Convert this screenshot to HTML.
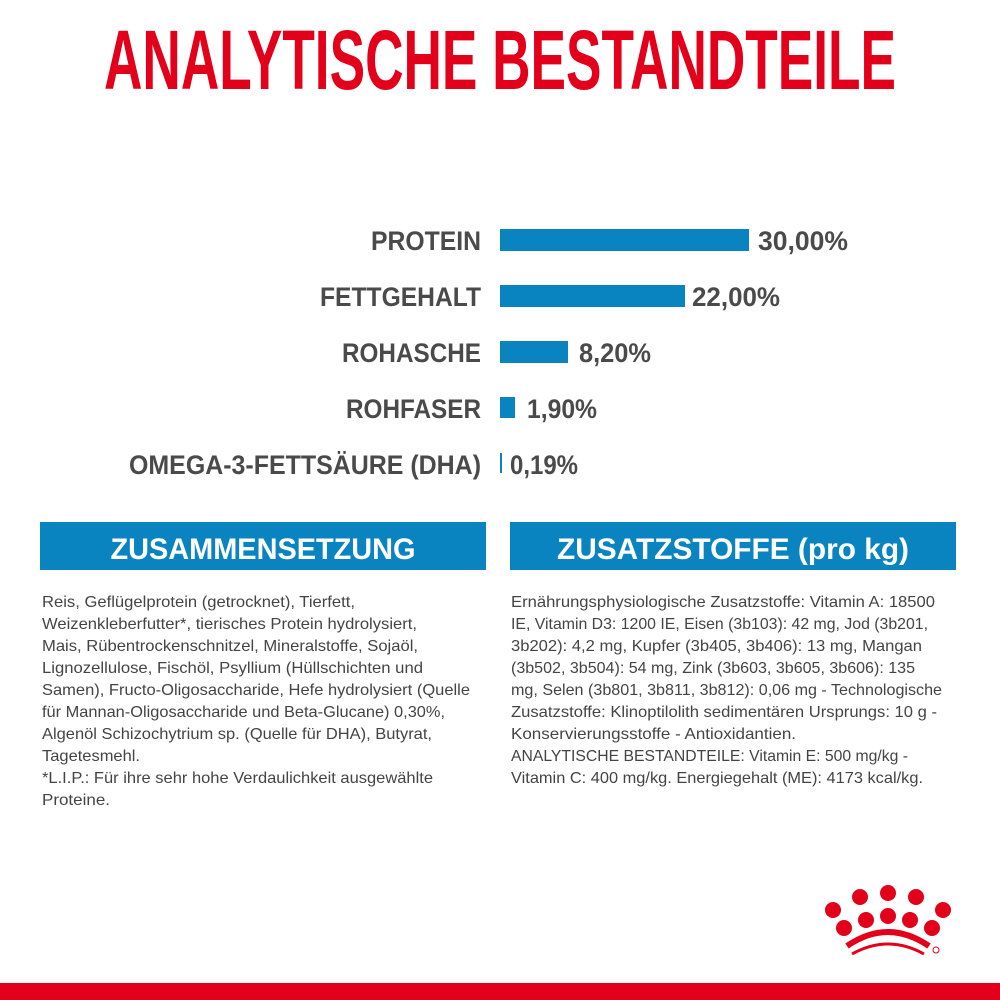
<!DOCTYPE html>
<html><head><meta charset="utf-8"><style>
html,body{margin:0;padding:0;background:#fff;}
svg{display:block}
</style></head><body>
<svg width="1000" height="1000" xmlns="http://www.w3.org/2000/svg" font-family="Liberation Sans, sans-serif">
<rect width="1000" height="1000" fill="#fff"/>
<text x="500" y="89" text-anchor="middle" font-size="84" font-weight="bold" fill="#e2001a" textLength="792" lengthAdjust="spacingAndGlyphs">ANALYTISCHE BESTANDTEILE</text>

<g font-weight="bold" fill="#4a4a4a" font-size="27">
<text x="481" y="250" text-anchor="end" textLength="110" lengthAdjust="spacingAndGlyphs">PROTEIN</text>
<text x="481" y="306" text-anchor="end" textLength="161" lengthAdjust="spacingAndGlyphs">FETTGEHALT</text>
<text x="481" y="362" text-anchor="end" textLength="139" lengthAdjust="spacingAndGlyphs">ROHASCHE</text>
<text x="481" y="418" text-anchor="end" textLength="135" lengthAdjust="spacingAndGlyphs">ROHFASER</text>
<text x="481" y="474" text-anchor="end" textLength="352" lengthAdjust="spacingAndGlyphs">OMEGA-3-FETTSÄURE (DHA)</text>
<text x="758" y="250" textLength="90" lengthAdjust="spacingAndGlyphs">30,00%</text>
<text x="692" y="306" textLength="88" lengthAdjust="spacingAndGlyphs">22,00%</text>
<text x="579" y="362" textLength="72" lengthAdjust="spacingAndGlyphs">8,20%</text>
<text x="527" y="418" textLength="70" lengthAdjust="spacingAndGlyphs">1,90%</text>
<text x="510" y="474" textLength="68" lengthAdjust="spacingAndGlyphs">0,19%</text>
</g>
<g fill="#0a84c1">
<rect x="500" y="229" width="249" height="22"/>
<rect x="500" y="285" width="185" height="22"/>
<rect x="500" y="341" width="68" height="22"/>
<rect x="500" y="397" width="15" height="21"/>
<rect x="500" y="453" width="2" height="20"/>
</g>

<rect x="40" y="522" width="446" height="48" fill="#0a84c1"/>
<rect x="510" y="522" width="446" height="48" fill="#0a84c1"/>
<text x="263" y="559" text-anchor="middle" font-size="30" font-weight="bold" fill="#fff" textLength="305" lengthAdjust="spacingAndGlyphs">ZUSAMMENSETZUNG</text>
<text x="733" y="559" text-anchor="middle" font-size="30" font-weight="bold" fill="#fff" textLength="352" lengthAdjust="spacingAndGlyphs">ZUSATZSTOFFE (pro kg)</text>

<g font-size="16" fill="#444">
<text x="42" y="607" textLength="313" lengthAdjust="spacingAndGlyphs">Reis, Geflügelprotein (getrocknet), Tierfett,</text>
<text x="42" y="629" textLength="375" lengthAdjust="spacingAndGlyphs">Weizenkleberfutter*, tierisches Protein hydrolysiert,</text>
<text x="42" y="651" textLength="376" lengthAdjust="spacingAndGlyphs">Mais, Rübentrockenschnitzel, Mineralstoffe, Sojaöl,</text>
<text x="42" y="673" textLength="381" lengthAdjust="spacingAndGlyphs">Lignozellulose, Fischöl, Psyllium (Hüllschichten und</text>
<text x="42" y="695" textLength="428" lengthAdjust="spacingAndGlyphs">Samen), Fructo-Oligosaccharide, Hefe hydrolysiert (Quelle</text>
<text x="42" y="717" textLength="403" lengthAdjust="spacingAndGlyphs">für Mannan-Oligosaccharide und Beta-Glucane) 0,30%,</text>
<text x="42" y="739" textLength="390" lengthAdjust="spacingAndGlyphs">Algenöl Schizochytrium sp. (Quelle für DHA), Butyrat,</text>
<text x="42" y="761" textLength="98" lengthAdjust="spacingAndGlyphs">Tagetesmehl.</text>
<text x="42" y="783" textLength="391" lengthAdjust="spacingAndGlyphs">*L.I.P.: Für ihre sehr hohe Verdaulichkeit ausgewählte</text>
<text x="42" y="805" textLength="68" lengthAdjust="spacingAndGlyphs">Proteine.</text>

<text x="511" y="607" textLength="424" lengthAdjust="spacingAndGlyphs">Ernährungsphysiologische Zusatzstoffe: Vitamin A: 18500</text>
<text x="511" y="629" textLength="417" lengthAdjust="spacingAndGlyphs">IE, Vitamin D3: 1200 IE, Eisen (3b103): 42 mg, Jod (3b201,</text>
<text x="511" y="651" textLength="411" lengthAdjust="spacingAndGlyphs">3b202): 4,2 mg, Kupfer (3b405, 3b406): 13 mg, Mangan</text>
<text x="511" y="673" textLength="404" lengthAdjust="spacingAndGlyphs">(3b502, 3b504): 54 mg, Zink (3b603, 3b605, 3b606): 135</text>
<text x="511" y="695" textLength="431" lengthAdjust="spacingAndGlyphs">mg, Selen (3b801, 3b811, 3b812): 0,06 mg - Technologische</text>
<text x="511" y="717" textLength="426" lengthAdjust="spacingAndGlyphs">Zusatzstoffe: Klinoptilolith sedimentären Ursprungs: 10 g -</text>
<text x="511" y="739" textLength="285" lengthAdjust="spacingAndGlyphs">Konservierungsstoffe - Antioxidantien.</text>
<text x="511" y="761" textLength="397" lengthAdjust="spacingAndGlyphs">ANALYTISCHE BESTANDTEILE: Vitamin E: 500 mg/kg -</text>
<text x="511" y="783" textLength="412" lengthAdjust="spacingAndGlyphs">Vitamin C: 400 mg/kg. Energiegehalt (ME): 4173 kcal/kg.</text>
</g>

<g fill="#e2001a">
<circle cx="833" cy="910" r="8"/>
<circle cx="860" cy="897" r="8"/>
<circle cx="888" cy="893" r="8"/>
<circle cx="916" cy="897" r="8"/>
<circle cx="943" cy="910" r="8"/>
<circle cx="844" cy="928" r="8"/>
<circle cx="866" cy="920" r="8"/>
<circle cx="888" cy="916" r="8"/>
<circle cx="910" cy="920" r="8"/>
<circle cx="932" cy="928" r="8"/>
<path d="M847 946 Q888 918 929 946" stroke="#e2001a" stroke-width="6" fill="none"/>
<path d="M852 954 Q888 934 924 954" stroke="#e2001a" stroke-width="3" fill="none"/>
<circle cx="936" cy="950" r="3" fill="none" stroke="#e2001a" stroke-width="1"/>
<rect x="0" y="983" width="1000" height="17"/>
</g>
</svg>
</body></html>
